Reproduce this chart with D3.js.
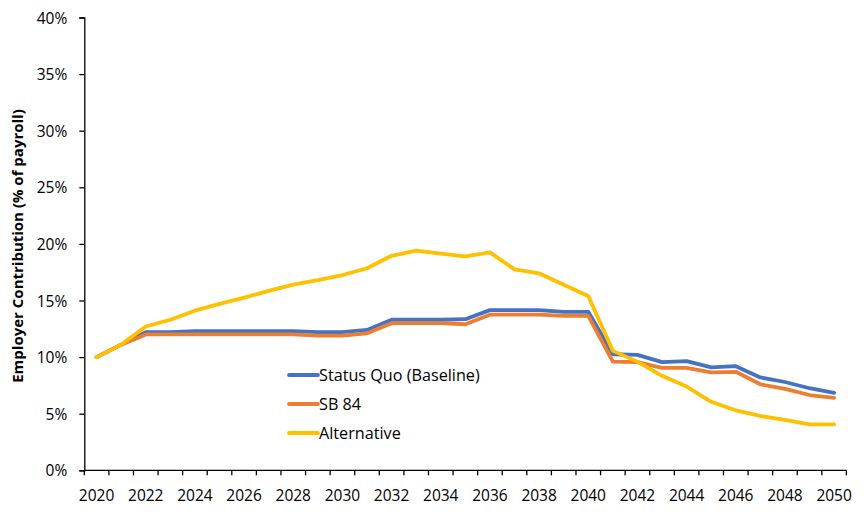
<!DOCTYPE html>
<html>
<head>
<meta charset="utf-8">
<script src="https://cdn.jsdelivr.net/npm/d3@7"></script>
<style>
	body{ margin:0; background:#fff; }
	svg{ display:block; }
	text{ font-family:"Open Sans", "Noto Sans", sans-serif; fill:#000; }
</style>
</head>
<body>
<div id="chart"></div>
<script>
const years = d3.range(2020, 2051);
const yearLabels = years.filter(function(y){ return y % 2 === 0; });
const yTicks = [0, 5, 10, 15, 20, 25, 30, 35, 40];

// employer contribution, % of payroll
const statusQuo = [10.0, 11.1, 12.2, 12.2, 12.3, 12.3, 12.3, 12.3, 12.3, 12.2, 12.2, 12.4,
	13.3, 13.3, 13.3, 13.35, 14.15, 14.15, 14.15, 14.0, 14.0,
	10.25, 10.2, 9.55, 9.65, 9.1, 9.2, 8.2, 7.8, 7.25, 6.85];
const sb84 = [10.0, 11.1, 12.0, 12.0, 12.0, 12.0, 12.0, 12.0, 12.0, 11.9, 11.9, 12.1,
	13.0, 13.0, 13.0, 12.9, 13.75, 13.75, 13.75, 13.65, 13.65,
	9.6, 9.55, 9.05, 9.05, 8.65, 8.7, 7.6, 7.2, 6.65, 6.4];
const alternative = [10.0, 11.1, 12.7, 13.3, 14.1, 14.7, 15.25, 15.85, 16.4, 16.8, 17.25, 17.85,
	18.95, 19.4, 19.15, 18.9, 19.25, 17.75, 17.4, 16.4, 15.4,
	10.55, 9.6, 8.35, 7.4, 6.05, 5.3, 4.8, 4.45, 4.05, 4.05];

const seriesNames = ["Status Quo (Baseline)", "SB 84", "Alternative"];
const seriesColors = ["#4472C4", "#ED7D31", "#FFC000"];

let width = 864,
	height = 513,
	plotLeft = 84.3,
	plotRight = 846.4,
	plotTop = 17.5,
	plotBottom = 470.3,
	tickFont = 15.5;

let svg = d3.select("#chart").append("svg")
	.attr("width", width)
	.attr("height", height);

let x = d3.scaleBand()
	.domain(years)
	.range([plotLeft, plotRight]);

let y = d3.scaleLinear()
	.domain([0, 40])
	.range([plotBottom, plotTop]);

drawAxes();
drawLines();
drawLegend();

function drawAxes(){
	// y axis
	let yAxis = svg.append("g")
		.attr("transform", "translate(" + plotLeft + ",0)")
		.call(d3.axisLeft(y)
			.tickValues(yTicks)
			.tickSize(5)
			.tickPadding(12)
			.tickFormat(function(d){ return d + "%"; }));
	styleAxis(yAxis);
	yAxis.selectAll("text").attr("dy", "0.36em");

	// x axis: tick marks between categories, labels every other year
	let xAxis = svg.append("g")
		.attr("transform", "translate(0," + plotBottom + ")");
	xAxis.append("line")
		.attr("x1", plotLeft)
		.attr("x2", plotRight)
		.attr("stroke", "#000")
		.attr("stroke-width", 1.3);
	xAxis.selectAll(".xtick")
		.data(years.concat([2051]))
		.enter().append("line")
		.attr("class", "xtick")
		.attr("x1", function(d){ return d === 2051 ? plotRight : x(d); })
		.attr("x2", function(d){ return d === 2051 ? plotRight : x(d); })
		.attr("y1", 0)
		.attr("y2", 5)
		.attr("stroke", "#000")
		.attr("stroke-width", 1.3);
	xAxis.selectAll(".xlabel")
		.data(yearLabels)
		.enter().append("text")
		.attr("class", "xlabel")
		.attr("x", function(d){ return x(d) + x.bandwidth() / 2; })
		.attr("y", 31)
		.attr("text-anchor", "middle")
		.attr("font-size", tickFont)
		.text(function(d){ return d; });

	svg.append("text")
		.attr("transform", "translate(22.5,246) rotate(-90)")
		.attr("text-anchor", "middle")
		.attr("font-size", 15)
		.attr("font-weight", "bold")
		.text("Employer Contribution (% of payroll)");
}

function styleAxis(g){
	g.select(".domain").attr("stroke", "#000").attr("stroke-width", 1.3);
	g.selectAll(".tick line").attr("stroke", "#000").attr("stroke-width", 1.3);
	g.selectAll(".tick text").attr("font-size", tickFont).attr("fill", "#000")
		.style("font-family", "'Open Sans', 'Noto Sans', sans-serif");
}

function drawLines(){
	let allSeries = [statusQuo, sb84, alternative];
	let line = d3.line()
		.x(function(d, i){ return x(years[i]) + x.bandwidth() / 2; })
		.y(function(d){ return y(d); });

	svg.selectAll(".series")
		.data(allSeries)
		.enter().append("path")
		.attr("class", "series")
		.attr("d", line)
		.attr("fill", "none")
		.attr("stroke", function(d, i){ return seriesColors[i]; })
		.attr("stroke-width", 3.8)
		.attr("stroke-linejoin", "round")
		.attr("stroke-linecap", "round");
}

function drawLegend(){
	let legend = svg.append("g")
		.attr("transform", "translate(289,375)");
	let items = legend.selectAll(".item")
		.data(seriesNames)
		.enter().append("g")
		.attr("class", "item")
		.attr("transform", function(d, i){ return "translate(0," + (i * 29) + ")"; });
	items.append("line")
		.attr("x1", 0)
		.attr("x2", 29)
		.attr("stroke", function(d, i){ return seriesColors[i]; })
		.attr("stroke-width", 3.8)
		.attr("stroke-linecap", "round");
	items.append("text")
		.attr("x", 30)
		.attr("dy", "0.36em")
		.attr("font-size", 16.2)
		.text(function(d){ return d; });
}
</script>
</body>
</html>
